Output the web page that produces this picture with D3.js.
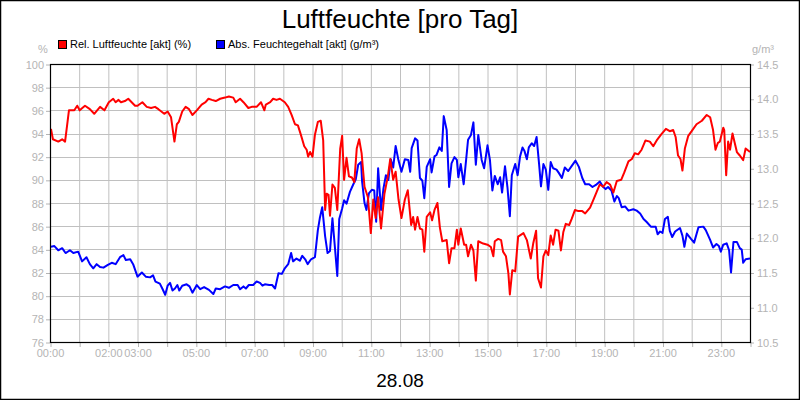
<!DOCTYPE html>
<html><head><meta charset="utf-8">
<script src="https://cdn.jsdelivr.net/npm/d3@7"></script>
<style>body{margin:0;background:#fff}svg{display:block;font-family:"Liberation Sans",Arial,sans-serif}</style>
</head><body><svg id="c" width="800" height="400"></svg>
<script>
const title = "Luftfeuchte [pro Tag]";
const dateLabel = "28.08";
const seriesNames = ["Rel. Luftfeuchte [akt] (%)", "Abs. Feuchtegehalt [akt] (g/m³)"];
const seriesColors = ["#ff0000", "#0000ff"];
const xTickHours = [0, 2, 3, 5, 7, 9, 11, 13, 15, 17, 19, 21, 23];
const leftTicks = [76,78,80,82,84,86,88,90,92,94,96,98,100];
const rightTicks = [10.5,11.0,11.5,12.0,12.5,13.0,13.5,14.0,14.5];

// minutes since 00:00
const relTimes = [2,6,17,25,31,39,50,56,61,72,82,91,103,112,121,130,135,141,146,154,161,175,180,190,199,208,216,223,235,242,249,256,261,265,272,279,286,293,302,312,320,326,333,341,350,360,368,377,382,391,398,408,415,425,434,441,444,453,459,466,473,483,490,497,504,510,516,523,528,531,535,540,545,551,557,562,566,569,573,576,581,586,591,597,601,605,610,615,621,626,631,636,641,647,654,660,665,670,675,681,688,695,700,706,711,717,723,730,736,743,747,751,756,761,766,770,775,782,786,791,797,802,807,816,821,826,832,837,840,845,852,856,860,866,871,876,881,891,900,907,912,915,922,928,932,938,943,946,951,957,963,974,981,989,994,1000,1004,1010,1015,1020,1025,1030,1035,1040,1046,1051,1056,1061,1068,1073,1080,1087,1095,1101,1111,1118,1125,1131,1138,1145,1152,1159,1166,1175,1181,1190,1197,1203,1210,1217,1225,1234,1241,1248,1257,1267,1275,1282,1287,1292,1297,1301,1306,1313,1320,1330,1341,1351,1358,1364,1369,1374,1378,1385,1387,1391,1395,1399,1404,1413,1419,1426,1431,1440];
const relValues = [94.4,93.5,93.3,93.5,93.3,96.0,96.0,96.4,96.0,96.4,96.1,95.7,96.3,96.0,96.7,97.0,96.7,96.9,96.7,96.8,97.0,96.4,96.4,96.7,96.3,96.2,96.3,96.1,95.7,95.9,95.4,93.3,94.8,95.0,95.9,96.3,96.1,95.6,96.0,96.5,96.7,97.0,96.9,96.8,97.0,97.1,97.2,97.1,96.7,97.0,96.7,96.2,96.3,96.3,96.7,96.0,96.5,96.7,97.0,96.9,97.0,96.7,96.3,95.6,94.8,94.7,93.9,92.9,92.6,92.0,92.4,92.0,93.9,95.0,95.1,93.4,87.4,88.8,88.7,86.9,89.6,89.3,87.4,92.7,93.8,90.0,91.9,90.3,90.2,89.8,92.7,93.5,92.3,89.4,88.5,85.4,88.3,86.7,88.5,85.8,88.8,90.3,91.8,90.0,90.7,88.3,86.7,88.3,89.1,86.1,86.8,85.7,86.8,85.8,85.7,83.8,86.8,87.2,86.5,87.4,88.0,85.9,84.7,84.8,82.8,84.1,84.1,85.7,84.4,85.8,84.4,84.4,83.4,84.4,83.9,81.3,84.7,84.5,84.4,84.2,83.4,84.7,84.9,84.8,83.8,83.4,81.9,80.1,82.2,82.1,85.1,85.4,84.8,83.2,84.5,85.6,81.5,80.7,83.4,83.9,83.5,85.2,84.4,85.7,85.6,83.9,85.5,86.2,86.1,86.6,87.4,87.3,87.3,87.1,87.6,88.3,89.0,89.6,89.4,89.8,89.6,88.9,89.9,90.0,90.6,91.6,91.8,92.3,92.2,92.6,93.4,93.3,92.9,93.4,93.9,94.4,94.2,94.3,93.7,92.1,91.8,90.8,92.7,93.8,94.2,94.8,95.1,95.6,95.4,94.3,92.6,93.2,93.3,94.5,94.3,90.4,93.3,92.6,94.0,92.4,92.1,91.7,92.7,92.4];

const absTimes = [2,9,17,25,32,41,48,58,66,75,82,89,96,103,110,119,127,135,144,151,156,165,171,180,189,197,206,212,217,226,231,237,242,247,252,257,262,266,272,281,287,293,302,309,317,327,336,341,350,360,368,377,386,391,398,403,409,418,425,432,437,442,451,457,463,470,477,483,490,496,500,507,514,519,525,530,537,545,551,555,560,566,571,576,581,586,591,595,601,605,610,617,624,629,634,640,642,647,651,656,662,667,671,675,681,686,691,696,701,706,711,717,723,730,737,741,744,751,756,761,766,770,775,782,785,791,795,801,806,810,816,821,826,832,837,840,845,851,856,860,866,871,876,881,888,893,900,905,910,915,921,926,930,936,941,946,950,957,962,967,972,976,981,985,991,996,1001,1006,1010,1015,1020,1025,1030,1035,1042,1047,1053,1059,1066,1073,1081,1088,1095,1101,1109,1116,1123,1131,1138,1143,1148,1155,1161,1166,1170,1176,1183,1190,1200,1207,1214,1221,1227,1236,1246,1250,1255,1260,1265,1271,1275,1280,1286,1296,1301,1305,1310,1319,1325,1334,1344,1349,1358,1364,1371,1376,1380,1385,1392,1397,1401,1406,1413,1419,1423,1426,1431,1440];
const absValues = [11.87,11.88,11.82,11.85,11.78,11.82,11.78,11.80,11.66,11.72,11.62,11.56,11.62,11.58,11.57,11.61,11.64,11.62,11.72,11.75,11.68,11.69,11.62,11.44,11.50,11.44,11.43,11.46,11.37,11.34,11.27,11.18,11.31,11.35,11.24,11.27,11.32,11.24,11.31,11.33,11.30,11.21,11.32,11.26,11.29,11.25,11.19,11.27,11.26,11.30,11.28,11.32,11.32,11.26,11.30,11.27,11.32,11.32,11.37,11.35,11.31,11.33,11.32,11.32,11.27,11.49,11.48,11.56,11.62,11.78,11.66,11.70,11.67,11.74,11.69,11.62,11.69,11.72,12.11,12.28,12.44,12.02,11.78,11.81,12.28,11.87,11.45,12.27,12.42,12.54,12.49,12.66,12.77,12.84,13.05,13.09,12.81,12.50,12.40,12.64,12.69,12.68,12.23,13.00,12.40,12.71,12.90,12.83,13.13,13.01,13.32,13.11,12.95,13.13,13.12,12.95,13.29,13.43,13.40,12.86,12.82,12.57,13.02,13.13,12.94,13.17,13.19,13.30,13.25,13.75,13.55,12.73,13.07,13.16,13.12,12.87,13.06,12.77,13.12,13.41,13.48,13.66,13.05,13.48,13.12,13.00,13.33,13.12,12.68,12.89,12.77,12.87,12.65,13.03,12.73,12.31,12.90,13.06,12.90,13.17,13.30,13.25,13.13,13.30,13.36,13.32,13.45,13.07,12.74,13.06,12.98,12.69,13.09,13.00,12.98,12.93,12.86,13.01,12.96,13.03,13.11,13.02,12.86,12.77,12.77,12.73,12.76,12.81,12.73,12.70,12.73,12.68,12.52,12.60,12.57,12.44,12.45,12.39,12.41,12.39,12.35,12.27,12.23,12.16,12.16,12.05,12.09,12.07,12.27,12.30,12.10,12.01,12.09,12.14,12.03,11.87,12.06,11.98,11.93,12.15,12.16,12.11,11.97,11.86,11.91,11.88,11.80,11.90,11.92,11.82,11.50,11.94,11.94,11.85,11.83,11.64,11.69,11.70];

const svg = d3.select("#c");
const W = 800, H = 400;
const m = {left: 50, right: 750, top: 64, bottom: 342};
const grey = "#b4b4b4";

svg.append("rect").attr("x",0.5).attr("y",0.5).attr("width",W-1).attr("height",H-1)
  .attr("fill","#fff").attr("stroke","#000").attr("stroke-width",1.5);

const x = d3.scaleLinear().domain([0, 1440]).range([m.left, m.right]);
const yL = d3.scaleLinear().domain([76, 100]).range([m.bottom, m.top]);
const yR = d3.scaleLinear().domain([10.5, 14.5]).range([m.bottom, m.top]);

// grid
const g = svg.append("g");
g.selectAll("line.vg").data(d3.range(1, 24)).join("line")
  .attr("x1", d => x(d*60)+0.5).attr("x2", d => x(d*60)+0.5)
  .attr("y1", m.top).attr("y2", m.bottom).attr("stroke", "#c0c0c0").attr("stroke-width",1);
g.selectAll("line.hg").data(leftTicks.slice(1, -1)).join("line")
  .attr("y1", d => Math.round(yL(d))+0.5).attr("y2", d => Math.round(yL(d))+0.5)
  .attr("x1", m.left).attr("x2", m.right).attr("stroke", "#c0c0c0").attr("stroke-width",1);

// axes
function styleAxis(sel){
  sel.select(".domain").remove();
  sel.selectAll(".tick line").attr("stroke", grey);
  sel.selectAll(".tick text").attr("fill", grey).attr("font-size", 11)
     .attr("font-family", '"Liberation Sans",Arial,sans-serif');
}
const xAxisTicks = svg.append("g").attr("transform", `translate(0.5,${m.bottom})`)
  .call(d3.axisBottom(x).tickValues(d3.range(0, 25).map(h => h*60)).tickSize(5).tickFormat(""));
styleAxis(xAxisTicks);
const xAxisLabels = svg.append("g").attr("transform", `translate(0,${m.bottom})`)
  .call(d3.axisBottom(x).tickValues(xTickHours.map(h => h*60)).tickSize(0).tickPadding(7)
    .tickFormat(v => String(Math.floor(v/60)).padStart(2,"0") + ":00"));
styleAxis(xAxisLabels);

const yAxisL = svg.append("g").attr("transform", `translate(${m.left},0.5)`)
  .call(d3.axisLeft(yL).tickValues(leftTicks).tickSize(4).tickPadding(2).tickFormat(d3.format("d")));
styleAxis(yAxisL);
const yAxisR = svg.append("g").attr("transform", `translate(${m.right},0.5)`)
  .call(d3.axisRight(yR).tickValues(rightTicks).tickSize(4).tickPadding(3).tickFormat(d3.format(".1f")));
styleAxis(yAxisR);

// lines
const clip = svg.append("clipPath").attr("id","pc").append("rect")
  .attr("x", m.left).attr("y", m.top).attr("width", m.right-m.left).attr("height", m.bottom-m.top);
const relData = relTimes.map((t,i) => [t, relValues[i]]);
const absData = absTimes.map((t,i) => [t, absValues[i]]);
svg.append("path").datum(absData).attr("clip-path","url(#pc)")
  .attr("fill","none").attr("stroke", seriesColors[1]).attr("stroke-width", 2).attr("stroke-linejoin","round")
  .attr("d", d3.line().x(d => x(d[0])).y(d => yR(d[1])));
svg.append("path").datum(relData).attr("clip-path","url(#pc)")
  .attr("fill","none").attr("stroke", seriesColors[0]).attr("stroke-width", 2).attr("stroke-linejoin","round")
  .attr("d", d3.line().x(d => x(d[0])).y(d => yL(d[1])));

// frame
svg.append("rect").attr("x", m.left+0.5).attr("y", m.top+0.5)
  .attr("width", m.right-m.left).attr("height", m.bottom-m.top)
  .attr("fill","none").attr("stroke","#000").attr("stroke-width",1.2);

// title and labels
svg.append("text").attr("x", 400).attr("y", 28).attr("text-anchor","middle")
  .attr("font-size", 26).attr("fill","#000").text(title);
svg.append("text").attr("x", 400).attr("y", 387).attr("text-anchor","middle")
  .attr("font-size", 19).attr("fill","#000").text(dateLabel);
svg.append("text").attr("x", 43).attr("y", 53).attr("text-anchor","middle")
  .attr("font-size", 11).attr("fill", grey).text("%");
svg.append("text").attr("x", 752).attr("y", 53).attr("text-anchor","start")
  .attr("font-size", 11).attr("fill", grey).text("g/m³");

// legend
const legX = [58, 216];
const leg = svg.append("g").selectAll("g").data(seriesNames).join("g")
  .attr("transform", (d,i) => `translate(${legX[i]},0)`);
leg.append("rect").attr("x",0.5).attr("y",40.5).attr("width",8).attr("height",8)
  .attr("fill", (d,i) => seriesColors[i]).attr("stroke","#000").attr("stroke-width",1);
leg.append("text").attr("x", 12).attr("y", 48).attr("font-size", 11).attr("fill","#000").text(d => d);
</script></body></html>
